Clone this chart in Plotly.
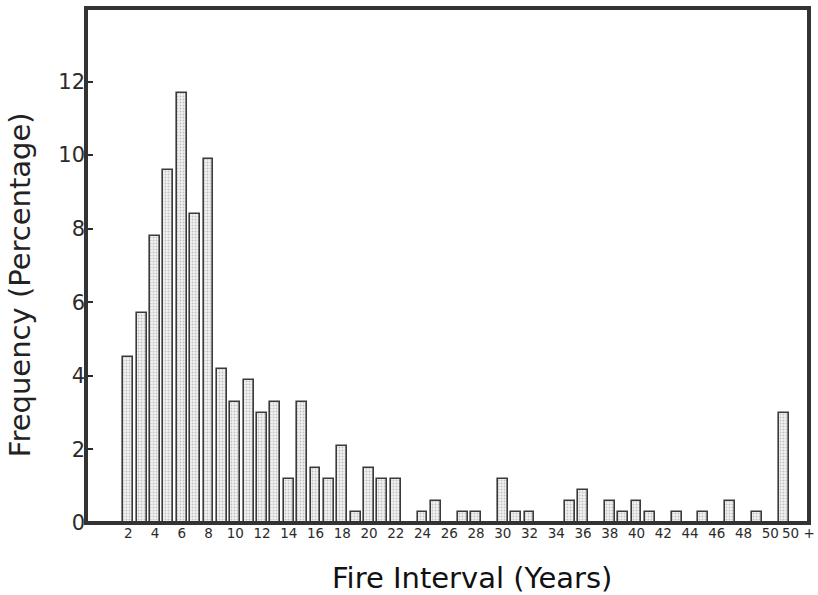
import plotly.graph_objects as go

# Fire interval categories (years) and bar positions
interval_labels = [str(y) for y in range(2, 51)] + ["50 +"]
interval_pos = list(range(2, 52))
frequency = [4.5, 5.7, 7.8, 9.6, 11.7, 8.4, 9.9, 4.2, 3.3, 3.9,
             3.0, 3.3, 1.2, 3.3, 1.5, 1.2, 2.1, 0.3, 1.5, 1.2,
             1.2, 0.0, 0.3, 0.6, 0.0, 0.3, 0.3, 0.0, 1.2, 0.3,
             0.3, 0.0, 0.0, 0.6, 0.9, 0.0, 0.6, 0.3, 0.6, 0.3,
             0.0, 0.3, 0.0, 0.3, 0.0, 0.6, 0.0, 0.3, 0.0, 3.0]

x_tick_vals = list(range(2, 51, 2)) + [52.1]
x_tick_text = [str(v) for v in range(2, 51, 2)] + ["50 +"]
y_tick_vals = [0, 2, 4, 6, 8, 10, 12]

x_title = "Fire Interval (Years)"
y_title = "Frequency (Percentage)"

ink = "#2b2b2b"
font_family = "DejaVu Sans, Verdana, sans-serif"

fig = go.Figure()
fig.add_trace(go.Bar(
    x=interval_pos,
    y=frequency,
    width=0.74,
    marker=dict(
        color="#f2f2f2",
        line=dict(color="#3a3a3a", width=1.6),
        pattern=dict(shape=".", fgcolor="#8e8e8e", bgcolor="#f2f2f2",
                     size=3, solidity=0.3),
    ),
    hovertext=interval_labels,
    showlegend=False,
))

fig.update_layout(
    width=818, height=595,
    margin=dict(l=86, r=9, t=8, b=72),
    paper_bgcolor="white",
    plot_bgcolor="white",
    font=dict(family=font_family, color=ink),
    bargap=0,
    xaxis=dict(
        range=[-1.16, 52.9],
        tickvals=x_tick_vals,
        ticktext=x_tick_text,
        tickangle=0,
        tickfont=dict(size=13.5, color=ink),
        ticks="",
        ticklabeloverflow="allow",
        showgrid=False,
        zeroline=False,
        showline=False,
        automargin=False,
    ),
    yaxis=dict(
        range=[0, 14],
        tickvals=y_tick_vals,
        tickfont=dict(size=21, color=ink),
        ticksuffix="\u2002",
        ticks="inside",
        ticklen=7,
        tickwidth=2,
        tickcolor=ink,
        showgrid=False,
        zeroline=False,
        showline=False,
        automargin=False,
    ),
)

fig.add_annotation(text=x_title, xref="paper", yref="paper",
                   x=0.5335, y=-0.107, xanchor="center", yanchor="middle",
                   showarrow=False, font=dict(size=29, color="#111"))
fig.add_annotation(text=y_title, xref="paper", yref="paper",
                   x=-0.0912, y=0.462, xanchor="center", yanchor="middle",
                   textangle=-90, showarrow=False,
                   font=dict(size=29, color="#222"))

fig.add_shape(type="rect", xref="paper", yref="paper",
              x0=0, x1=1, y0=0, y1=1,
              line=dict(color="#333333", width=4), layer="above")

fig.write_html("out.html",
               config={"displayModeBar": False},
               post_script="document.body.style.margin='0';"
                           "document.body.style.overflow='hidden';")
